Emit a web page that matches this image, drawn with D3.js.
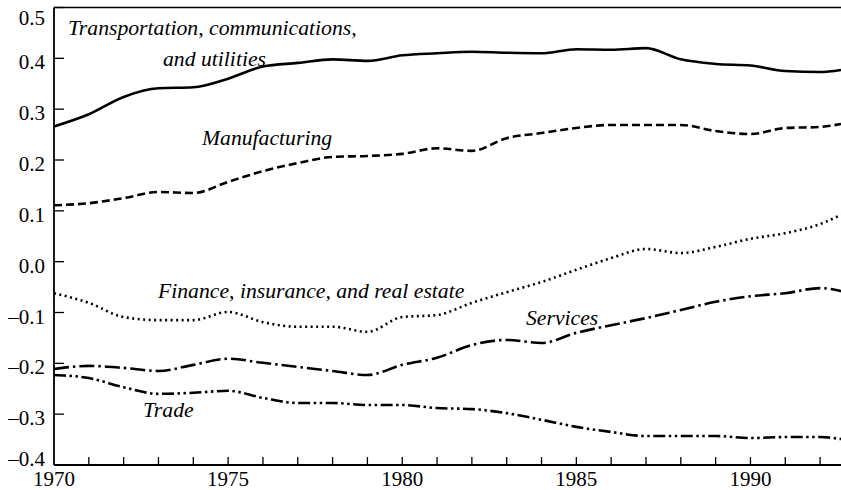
<!DOCTYPE html>
<html>
  <head>
    <meta charset="utf-8" />
    <title>Industry shares chart</title>
    <style>
      body { margin: 0; background: #fff; }
    </style>
  </head>
  <body>
    <svg id="chart" width="841" height="490"></svg>
    <script src="https://d3js.org/d3.v7.min.js"></script>
    <script>
      // years (last point is the mid-1992 reading at the right edge)
      const years = [1970, 1971, 1972, 1973, 1974, 1975, 1976, 1977, 1978, 1979, 1980,
        1981, 1982, 1983, 1984, 1985, 1986, 1987, 1988, 1989, 1990, 1991, 1992, 1992.6];

      const transportation = [0.266, 0.29, 0.324, 0.341, 0.343, 0.36, 0.384, 0.391, 0.398, 0.395, 0.406,
        0.41, 0.413, 0.411, 0.41, 0.418, 0.417, 0.42, 0.398, 0.389, 0.386, 0.375, 0.373, 0.377];
      const manufacturing = [0.111, 0.115, 0.125, 0.137, 0.135, 0.157, 0.178, 0.194, 0.206, 0.208, 0.212,
        0.223, 0.218, 0.243, 0.253, 0.263, 0.269, 0.269, 0.269, 0.257, 0.251, 0.263, 0.265, 0.271];
      const finance = [-0.062, -0.081, -0.109, -0.115, -0.115, -0.099, -0.119, -0.128, -0.128, -0.138, -0.109,
        -0.105, -0.081, -0.06, -0.04, -0.016, 0.007, 0.025, 0.017, 0.029, 0.045, 0.056, 0.074, 0.092];
      const services = [-0.211, -0.205, -0.209, -0.215, -0.203, -0.191, -0.199, -0.207, -0.215, -0.223, -0.203,
        -0.189, -0.164, -0.154, -0.16, -0.14, -0.125, -0.111, -0.095, -0.079, -0.068, -0.062, -0.052, -0.058];
      const trade = [-0.223, -0.229, -0.247, -0.26, -0.258, -0.254, -0.268, -0.278, -0.278, -0.282, -0.282,
        -0.288, -0.29, -0.298, -0.311, -0.325, -0.335, -0.343, -0.343, -0.343, -0.347, -0.345, -0.345, -0.349];

      const yTicks = [-0.4, -0.3, -0.2, -0.1, 0.0, 0.1, 0.2, 0.3, 0.4, 0.5];
      const xLabels = [1970, 1975, 1980, 1985, 1990];

      const serif = "'Liberation Serif', 'Times New Roman', serif";

      let margin = { top: 7.5, right: 0, bottom: 25, left: 54 },
        width = 841 - margin.left - margin.right,
        height = 490 - margin.top - margin.bottom;

      let svg = d3.select("#chart");
      let chart = svg
        .append("g")
        .attr("transform", "translate(" + margin.left + "," + margin.top + ")");

      let xScale = d3.scaleLinear().domain([1970, 1992.6]).range([0, width]);
      let yScale = d3.scaleLinear().domain([-0.4, 0.5]).range([height, 0]);

      // frame: left axis, bottom axis, top border
      chart.append("line")
        .attr("x1", 0).attr("x2", 0).attr("y1", 0).attr("y2", height)
        .attr("stroke", "#000").attr("stroke-width", 1.8);
      chart.append("line")
        .attr("x1", 0).attr("x2", width).attr("y1", height).attr("y2", height)
        .attr("stroke", "#000").attr("stroke-width", 1.8);
      chart.append("line")
        .attr("x1", 0).attr("x2", width).attr("y1", 0).attr("y2", 0)
        .attr("stroke", "#000").attr("stroke-width", 1.3);

      // y ticks (inward) and labels
      chart.selectAll(".ytick")
        .data(yTicks)
        .join("line")
        .attr("class", "ytick")
        .attr("x1", 0).attr("x2", 10)
        .attr("y1", (d) => yScale(d)).attr("y2", (d) => yScale(d))
        .attr("stroke", "#000").attr("stroke-width", 1.3);

      chart.selectAll(".ylab")
        .data(yTicks)
        .join("text")
        .attr("class", "ylab")
        .attr("x", -9)
        .attr("y", (d) => yScale(d) + (d == 0.5 ? 17 : d == -0.4 ? 1 : 11))
        .attr("text-anchor", "end")
        .attr("font-family", serif)
        .style("font-size", "21px")
        .text((d) => (d < 0 ? "\u2013" : "") + Math.abs(d).toFixed(1));

      // x ticks (inward) for every year
      chart.selectAll(".xtick")
        .data(d3.range(1971, 1993))
        .join("line")
        .attr("class", "xtick")
        .attr("x1", (d) => xScale(d)).attr("x2", (d) => xScale(d))
        .attr("y1", height).attr("y2", height - 8)
        .attr("stroke", "#000").attr("stroke-width", 1.3);

      chart.selectAll(".xlab")
        .data(xLabels)
        .join("text")
        .attr("class", "xlab")
        .attr("x", (d) => xScale(d))
        .attr("y", height + 21)
        .attr("text-anchor", "middle")
        .attr("font-family", serif)
        .style("font-size", "21px")
        .text((d) => d);

      let line = d3.line()
        .x((d, i) => xScale(years[i]))
        .y((d) => yScale(d))
        .curve(d3.curveMonotoneX);

      let series = [
        { values: transportation, dash: null },
        { values: manufacturing, dash: "8,4" },
        { values: finance, dash: "2,3.5" },
        { values: services, dash: "15,4,2.5,4" },
        { values: trade, dash: "12,3.5,2.5,3.5,2.5,3.5" },
      ];

      chart.selectAll(".series")
        .data(series)
        .join("path")
        .attr("class", "series")
        .attr("d", (d) => line(d.values))
        .attr("fill", "none")
        .attr("stroke", "#000")
        .attr("stroke-width", 2.6)
        .attr("stroke-dasharray", (d) => d.dash);

      // series labels, in page coords
      let labels = [
        { text: "Transportation, communications,", x: 68, y: 35 },
        { text: "and utilities", x: 163, y: 66 },
        { text: "Manufacturing", x: 202, y: 145 },
        { text: "Finance, insurance, and real estate", x: 158, y: 298 },
        { text: "Services", x: 526, y: 325 },
        { text: "Trade", x: 143, y: 417 },
      ];

      svg.selectAll(".slab")
        .data(labels)
        .join("text")
        .attr("class", "slab")
        .attr("x", (d) => d.x)
        .attr("y", (d) => d.y)
        .attr("font-family", serif)
        .style("font-size", "21.7px")
        .style("font-style", "italic")
        .text((d) => d.text);
    </script>
  </body>
</html>
